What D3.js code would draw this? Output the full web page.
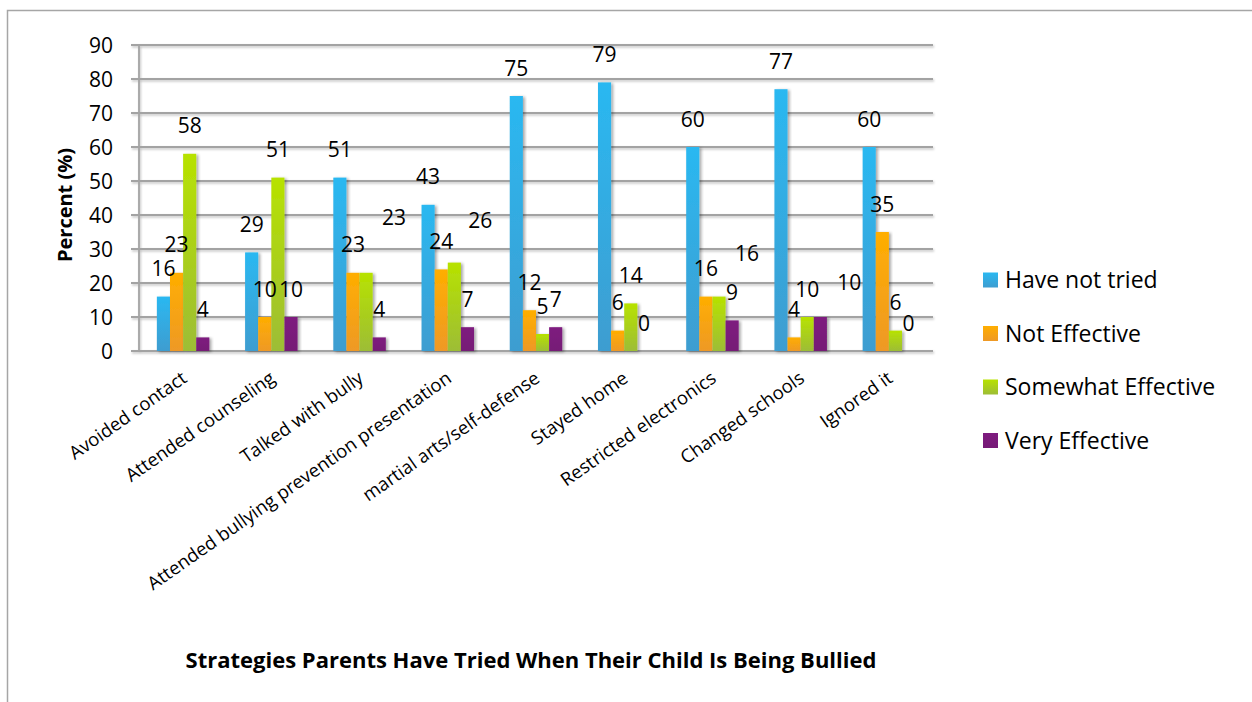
<!DOCTYPE html>
<html>
<head>
<meta charset="utf-8">
<script src="https://cdn.jsdelivr.net/npm/d3@7"></script>
<style>
  html, body { margin: 0; padding: 0; background: #fff; }
  text { font-family: "Open Sans", sans-serif; fill: #000; }
</style>
</head>
<body>
<div id="chart"></div>
<script>
/* Data */
const categories = ["Avoided contact", "Attended counseling", "Talked with bully",
  "Attended bullying prevention presentation", "martial arts/self-defense",
  "Stayed home", "Restricted electronics", "Changed schools", "Ignored it"];
const seriesNames = ["Have not tried", "Not Effective", "Somewhat Effective", "Very Effective"];
const haveNotTried = [16, 29, 51, 43, 75, 79, 60, 77, 60];
const notEffective = [23, 10, 23, 24, 12, 6, 16, 4, 35];
const somewhatEffective = [58, 51, 23, 26, 5, 14, 16, 10, 6];
const veryEffective = [4, 10, 4, 7, 7, 0, 9, 10, 0];
const yTicks = [0, 10, 20, 30, 40, 50, 60, 70, 80, 90];

/* Layout */
const W = 1252, H = 702;
const plot = { left: 139, right: 933, top: 45, bottom: 351 };
const colors = [
  ["#2ab8f1", "#3e9dd0"],
  ["#ffae00", "#ee9926"],
  ["#b7e200", "#9dbd36"],
  ["#7e1b7f", "#761a76"]
];
// labels that were dragged off their default spot (category-series: [dx, dy])
const labelNudge = { "2-2": [28, -27], "3-2": [26, -14], "6-2": [28, -15], "7-3": [29, -7] };

const seriesValues = [haveNotTried, notEffective, somewhatEffective, veryEffective];
const rows = categories.map((c, i) => ({
  cat: c, i: i, vals: seriesValues.map((s, k) => ({ k: k, v: s[i] }))
}));

const svg = d3.select("#chart").append("svg")
  .attr("width", W).attr("height", H);

const defs = svg.append("defs");
colors.forEach((c, k) => {
  const g = defs.append("linearGradient").attr("id", "grad" + k)
    .attr("x1", 0).attr("y1", 0).attr("x2", 0).attr("y2", 1);
  g.append("stop").attr("offset", "0%").attr("stop-color", c[0]);
  g.append("stop").attr("offset", "100%").attr("stop-color", c[1]);
});
const sh = defs.append("filter").attr("id", "shadow")
  .attr("x", "-30%").attr("y", "-10%").attr("width", "160%").attr("height", "130%");
sh.append("feDropShadow").attr("dx", 2).attr("dy", 1).attr("stdDeviation", 1.4)
  .attr("flood-color", "#000").attr("flood-opacity", 0.35);
const lsh = defs.append("filter").attr("id", "lshadow")
  .attr("x", "-5%").attr("y", "-200%").attr("width", "110%").attr("height", "500%");
lsh.append("feDropShadow").attr("dx", 1).attr("dy", 1.5).attr("stdDeviation", 0.8)
  .attr("flood-color", "#000").attr("flood-opacity", 0.25);

// outer frame (cut off at the right and bottom)
svg.append("rect")
  .attr("x", 7.5).attr("y", 10.5).attr("width", 1400).attr("height", 900)
  .attr("fill", "none").attr("stroke", "#a6a6a6").attr("stroke-width", 1.5);

/* Scales */
const y = d3.scaleLinear().domain([0, 90]).range([plot.bottom, plot.top]);
const x0 = d3.scaleBand().domain(categories).range([plot.left, plot.right])
  .paddingInner(0.405).paddingOuter(0.2025);
const x1 = d3.scaleBand().domain(d3.range(seriesNames.length)).range([0, x0.bandwidth()]);

/* Gridlines + axis */
const grid = svg.append("g").attr("filter", "url(#lshadow)");
grid.selectAll("line.g").data(yTicks).join("line")
  .attr("x1", plot.left - 8).attr("x2", plot.right)
  .attr("y1", d => y(d)).attr("y2", d => y(d))
  .attr("stroke", "#a3a3a3").attr("stroke-width", 1.8);
grid.append("line")
  .attr("x1", plot.left).attr("x2", plot.left)
  .attr("y1", y(90)).attr("y2", y(0))
  .attr("stroke", "#a3a3a3").attr("stroke-width", 1.8);

svg.append("g").selectAll("text").data(yTicks).join("text")
  .attr("x", 113).attr("y", d => y(d)).attr("dy", "0.36em")
  .attr("text-anchor", "end").style("font-size", "21px")
  .text(d => d);

/* Bars */
const groups = svg.append("g").selectAll("g").data(rows).join("g")
  .attr("transform", d => "translate(" + x0(d.cat) + ",0)");
groups.selectAll("rect").data(d => d.vals).join("rect")
  .attr("x", d => x1(d.k)).attr("width", x1.bandwidth())
  .attr("y", d => y(d.v)).attr("height", d => y(0) - y(d.v))
  .attr("fill", d => "url(#grad" + d.k + ")")
  .attr("filter", "url(#shadow)");

/* Value labels */
groups.selectAll("text").data(d => d.vals.map(v => Object.assign({ i: d.i }, v))).join("text")
  .attr("x", d => x1(d.k) + x1.bandwidth() / 2 + (labelNudge[d.i + "-" + d.k] || [0, 0])[0])
  .attr("y", d => y(d.v) - 28 + (labelNudge[d.i + "-" + d.k] || [0, 0])[1])
  .attr("dy", "0.36em").attr("text-anchor", "middle")
  .style("font-size", "21px")
  .text(d => d.v);

/* Category labels */
svg.append("g").selectAll("text").data(categories).join("text")
  .attr("transform", d => "translate(" + (x0(d) + x0.bandwidth() / 2 + 5) + ",381) rotate(-35)")
  .attr("text-anchor", "end").style("font-size", "18.5px")
  .text(d => d);

/* Axis title */
svg.append("text")
  .attr("transform", "translate(65,205) rotate(-90)")
  .attr("text-anchor", "middle").attr("dy", "0.36em")
  .style("font-size", "20px").style("font-weight", "bold")
  .text("Percent (%)");

/* Chart title */
svg.append("text")
  .attr("x", 531).attr("y", 668).attr("text-anchor", "middle")
  .style("font-size", "22px").style("font-weight", "bold")
  .text("Strategies Parents Have Tried When Their Child Is Being Bullied");

/* Legend */
const legend = svg.append("g").selectAll("g").data(seriesNames).join("g")
  .attr("transform", (d, k) => "translate(983," + (280 + k * 53.5) + ")");
legend.append("rect")
  .attr("x", 0).attr("y", -7.5).attr("width", 15).attr("height", 15)
  .attr("fill", (d, k) => "url(#grad" + k + ")");
legend.append("text")
  .attr("x", 22).attr("y", 0).attr("dy", "0.36em")
  .style("font-size", "23px")
  .text(d => d);
</script>
</body>
</html>
